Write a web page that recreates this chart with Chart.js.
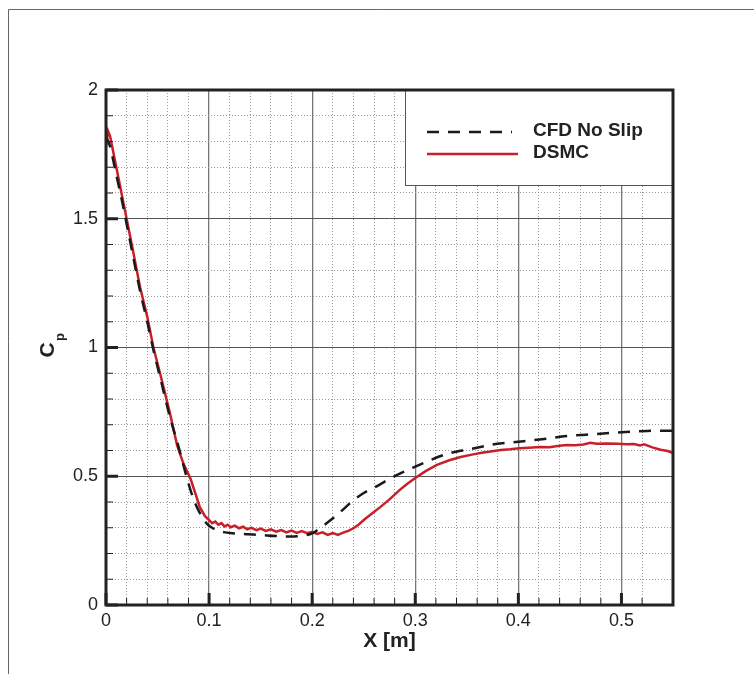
<!DOCTYPE html>
<html>
<head>
<meta charset="utf-8">
<script src="https://cdn.jsdelivr.net/npm/chart.js@4/dist/chart.umd.min.js"></script>
<style>
  html, body { margin: 0; padding: 0; background: #fff; }
  canvas { display: block; }
</style>
</head>
<body>
<canvas id="cp-chart" width="754" height="674"></canvas>
<script>
// Pressure coefficient along the surface
const cfdX = [0, 0.004, 0.01, 0.015, 0.02, 0.026, 0.033, 0.04, 0.046, 0.054, 0.062, 0.07, 0.078, 0.085,
	0.092, 0.098, 0.104, 0.114, 0.125, 0.137, 0.15, 0.165, 0.182, 0.195, 0.201, 0.208, 0.218, 0.227,
	0.238, 0.25, 0.262, 0.273, 0.285, 0.295, 0.31, 0.331, 0.353, 0.378, 0.4, 0.423, 0.447, 0.476,
	0.5, 0.525, 0.55];
const cfdY = [1.82, 1.78, 1.67, 1.58, 1.48, 1.36, 1.22, 1.10, 0.99, 0.86, 0.73, 0.62, 0.50, 0.41,
	0.35, 0.315, 0.297, 0.283, 0.278, 0.275, 0.272, 0.268, 0.266, 0.272, 0.28, 0.30, 0.33, 0.36,
	0.40, 0.435, 0.46, 0.485, 0.51, 0.528, 0.555, 0.587, 0.605, 0.625, 0.634, 0.644, 0.656, 0.664,
	0.671, 0.676, 0.677];

const dsmcX = [0, 0.002, 0.004, 0.007, 0.0105, 0.015, 0.02, 0.026, 0.033, 0.04, 0.046, 0.054, 0.062,
	0.069, 0.075, 0.082, 0.087, 0.091, 0.096, 0.1, 0.103, 0.106, 0.109, 0.112, 0.115, 0.118, 0.121,
	0.125, 0.129, 0.133, 0.137, 0.141, 0.146, 0.15, 0.155, 0.16, 0.165, 0.17, 0.175, 0.18, 0.185,
	0.19, 0.195, 0.2, 0.205, 0.21, 0.215, 0.22, 0.225, 0.23, 0.235, 0.24, 0.245, 0.25, 0.258, 0.266,
	0.275, 0.285, 0.292, 0.3, 0.31, 0.321, 0.333, 0.344, 0.355, 0.363, 0.373, 0.383, 0.392, 0.401,
	0.41, 0.421, 0.43, 0.44, 0.447, 0.455, 0.463, 0.47, 0.476, 0.485, 0.496, 0.505, 0.512, 0.518,
	0.522, 0.53, 0.538, 0.545, 0.55];
const dsmcY = [1.78, 1.84, 1.82, 1.76, 1.69, 1.60, 1.50, 1.38, 1.235, 1.12, 1.0, 0.875, 0.745,
	0.62, 0.55, 0.49, 0.43, 0.38, 0.345, 0.33, 0.318, 0.324, 0.312, 0.318, 0.305, 0.312, 0.302,
	0.308, 0.298, 0.304, 0.294, 0.300, 0.291, 0.297, 0.288, 0.294, 0.285, 0.291, 0.282, 0.289, 0.280,
	0.287, 0.279, 0.284, 0.276, 0.282, 0.272, 0.279, 0.272, 0.281, 0.288, 0.298, 0.312, 0.33, 0.355, 0.38,
	0.41, 0.447, 0.47, 0.493, 0.52, 0.544, 0.562, 0.575, 0.584, 0.59, 0.596, 0.602, 0.605, 0.609,
	0.611, 0.614, 0.613, 0.618, 0.621, 0.62, 0.623, 0.630, 0.626, 0.627, 0.626, 0.624, 0.625, 0.620,
	0.624, 0.612, 0.603, 0.598, 0.590];

const seriesNames = ['CFD No Slip', 'DSMC'];
const xTickLabels = [0, 0.1, 0.2, 0.3, 0.4, 0.5];
const yTickLabels = [0, 0.5, 1, 1.5, 2];

function toPoints(xs, ys) {
	return xs.map(function (x, i) { return { x: x, y: ys[i] }; });
}

function isMajor(v, step) {
	return Math.abs(v / step - Math.round(v / step)) < 1e-6;
}

function inList(v, list) {
	return list.some(function (t) { return Math.abs(t - v) < 1e-6; });
}

const tickFont = { family: "'Liberation Sans', Arial, sans-serif", size: 18 };

// frame, inward tick marks, legend box and the Cp label
const decorations = {
	id: 'decorations',
	beforeDraw: function (chart) {
		const ctx = chart.ctx;
		ctx.save();
		ctx.fillStyle = '#fff';
		ctx.fillRect(0, 0, chart.width, chart.height);
		ctx.strokeStyle = '#666';
		ctx.lineWidth = 1;
		ctx.beginPath();
		ctx.moveTo(8.5, chart.height);
		ctx.lineTo(8.5, 9.5);
		ctx.lineTo(chart.width, 9.5);
		ctx.stroke();
		ctx.restore();
	},
	afterDatasetsDraw: function (chart) {
		const ctx = chart.ctx;
		const area = chart.chartArea;
		const xs = chart.scales.x, ys = chart.scales.y;
		ctx.save();

		// tick marks pointing into the plot
		ctx.strokeStyle = '#222';
		xs.ticks.forEach(function (t) {
			const major = isMajor(t.value, 0.1);
			const px = xs.getPixelForValue(t.value);
			ctx.lineWidth = major ? 3 : 1;
			ctx.beginPath();
			ctx.moveTo(px, area.bottom);
			ctx.lineTo(px, area.bottom - (major ? 12 : 7));
			ctx.stroke();
		});
		ys.ticks.forEach(function (t) {
			const major = isMajor(t.value, 0.5);
			const py = ys.getPixelForValue(t.value);
			ctx.lineWidth = major ? 3 : 1;
			ctx.beginPath();
			ctx.moveTo(area.left, py);
			ctx.lineTo(area.left + (major ? 12 : 7), py);
			ctx.stroke();
		});

		// legend
		const box = { left: 405, top: 90, right: area.right, bottom: 185 };
		ctx.fillStyle = '#fff';
		ctx.fillRect(box.left, box.top, box.right - box.left, box.bottom - box.top);
		ctx.strokeStyle = '#555';
		ctx.lineWidth = 1;
		ctx.strokeRect(box.left + 0.5, box.top + 0.5, box.right - box.left, box.bottom - box.top);

		const rows = [132, 154];
		chart.data.datasets.forEach(function (ds, i) {
			ctx.strokeStyle = ds.borderColor;
			ctx.lineWidth = ds.borderWidth;
			ctx.setLineDash(ds.borderDash || []);
			ctx.beginPath();
			ctx.moveTo(427, rows[i]);
			ctx.lineTo(i === 0 ? 512 : 518, rows[i]);
			ctx.stroke();
			ctx.setLineDash([]);
			ctx.fillStyle = '#222';
			ctx.font = "bold 19px 'Liberation Sans', Arial, sans-serif";
			ctx.textBaseline = 'middle';
			ctx.textAlign = 'left';
			ctx.fillText(ds.label, 533, rows[i] - 1);
		});

		// plot frame
		ctx.strokeStyle = '#222';
		ctx.lineWidth = 3;
		ctx.strokeRect(area.left, area.top, area.right - area.left, area.bottom - area.top);
		ctx.restore();
	},
	afterDraw: function (chart) {
		const ctx = chart.ctx;
		ctx.save();
		ctx.translate(46, 350);
		ctx.rotate(-Math.PI / 2);
		ctx.fillStyle = '#222';
		ctx.textAlign = 'center';
		ctx.textBaseline = 'alphabetic';
		ctx.font = "bold 21px 'Liberation Sans', Arial, sans-serif";
		ctx.fillText('C', 0, 8);
		ctx.font = "bold 13px 'Liberation Sans', Arial, sans-serif";
		ctx.fillText('p', 13, 18);
		ctx.restore();
	}
};

new Chart(document.getElementById('cp-chart'), {
	type: 'line',
	data: {
		datasets: [
			{
				label: seriesNames[0],
				data: toPoints(cfdX, cfdY),
				borderColor: '#1a1a1a',
				borderWidth: 2.5,
				borderDash: [12, 9],
				cubicInterpolationMode: 'monotone',
				pointRadius: 0,
				fill: false
			},
			{
				label: seriesNames[1],
				data: toPoints(dsmcX, dsmcY),
				borderColor: '#c8202a',
				borderWidth: 2.5,
				tension: 0,
				pointRadius: 0,
				fill: false
			}
		]
	},
	options: {
		responsive: false,
		animation: false,
		devicePixelRatio: 1,
		layout: { padding: { top: 90, right: 81, left: 0, bottom: 0 } },
		plugins: {
			legend: { display: false },
			tooltip: { enabled: false }
		},
		scales: {
			x: {
				type: 'linear',
				min: 0,
				max: 0.55,
				afterFit: function (scale) { scale.height = 69; },
				ticks: {
					stepSize: 0.02,
					autoSkip: false,
					maxRotation: 0,
					padding: 5,
					color: '#222',
					font: tickFont,
					callback: function (v) {
						return inList(v, xTickLabels) ? String(Math.round(v * 10) / 10) : '';
					}
				},
				grid: {
					drawTicks: false,
					color: function (c) { return isMajor(c.tick.value, 0.1) ? '#777' : '#999'; },
					lineWidth: function (c) { return isMajor(c.tick.value, 0.1) ? 1.3 : 1; }
				},
				border: {
					display: false,
					dash: function (c) { return c.tick && !isMajor(c.tick.value, 0.1) ? [1, 2] : []; }
				},
				title: {
					display: true,
					text: 'X [m]',
					color: '#222',
					font: { family: "'Liberation Sans', Arial, sans-serif", size: 21, weight: 'bold' },
					padding: { top: 0, bottom: 20 }
				}
			},
			y: {
				type: 'linear',
				min: 0,
				max: 2,
				afterFit: function (scale) { scale.width = 106; },
				ticks: {
					stepSize: 0.1,
					autoSkip: false,
					padding: 8,
					color: '#222',
					font: tickFont,
					callback: function (v) {
						return inList(v, yTickLabels) ? String(Math.round(v * 10) / 10) : '';
					}
				},
				grid: {
					drawTicks: false,
					color: function (c) { return isMajor(c.tick.value, 0.5) ? '#555' : '#999'; },
					lineWidth: 1
				},
				border: {
					display: false,
					dash: function (c) { return c.tick && !isMajor(c.tick.value, 0.5) ? [1, 2] : []; }
				}
			}
		}
	},
	plugins: [decorations]
});
</script>
</body>
</html>
